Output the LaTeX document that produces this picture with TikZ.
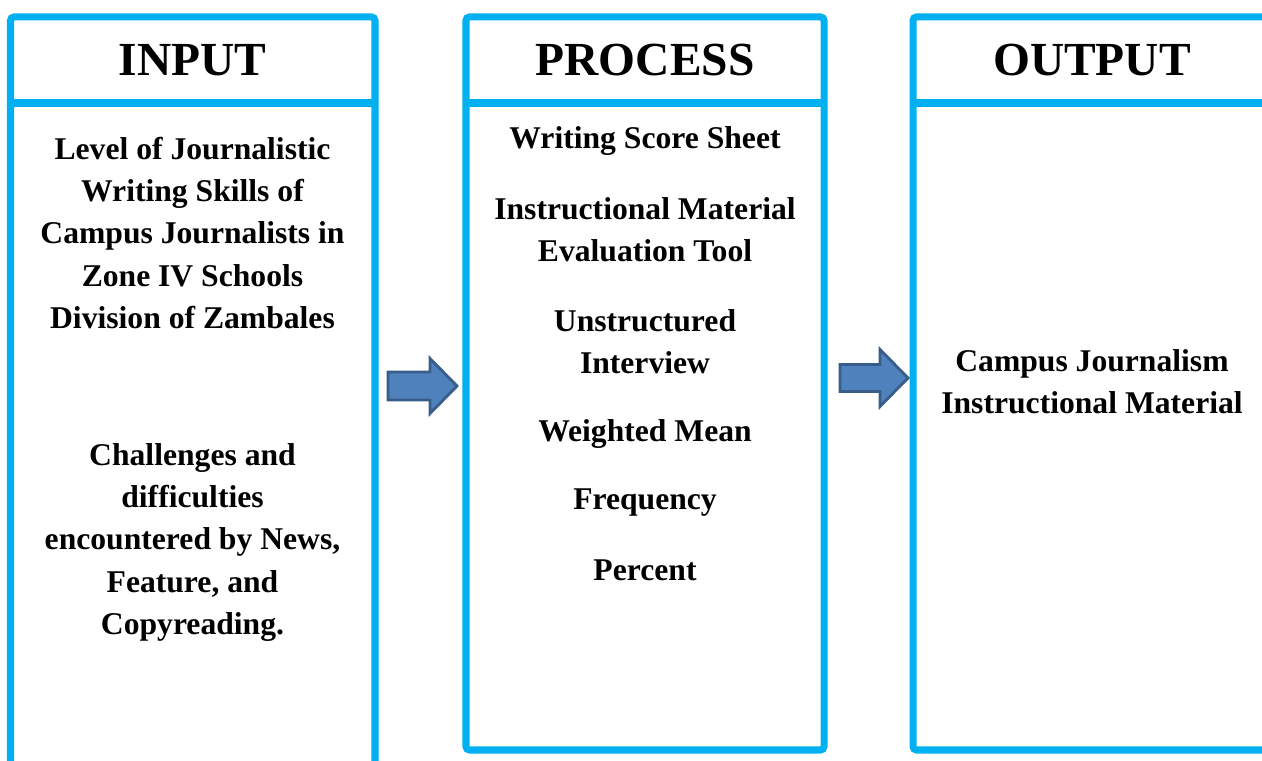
\documentclass[tikz,border=0pt]{standalone}
\usepackage{fontspec}
\setmainfont{Liberation Serif}
\definecolor{framecyan}{HTML}{00B0F0}
\definecolor{arrowfill}{HTML}{4F81BD}
\definecolor{arrowline}{HTML}{385D8A}
\tikzset{
  frame/.style={draw=framecyan, line width=4pt, rounded corners=2pt},
  divider/.style={draw=framecyan, line width=4pt},
  heading/.style={font=\fontsize{27}{32}\selectfont\bfseries},
  item/.style={align=center, font=\fontsize{18}{24}\selectfont\bfseries},
  blockarrow/.style={fill=arrowfill, draw=arrowline, line width=1.6pt, line join=miter},
}
\begin{document}
\begin{tikzpicture}
    \clip (0,0) rectangle (25.24,15.22);
    % frames
    \draw[frame] (0.21,-1) rectangle (7.5,14.88);
    \draw[divider] (0.21,13.16) -- (7.5,13.16);
    \draw[frame] (9.32,0.22) rectangle (16.48,14.88);
    \draw[divider] (9.32,13.16) -- (16.48,13.16);
    \draw[frame] (18.26,0.22) rectangle (27,14.88);
    \draw[divider] (18.26,13.16) -- (27,13.16);
    % headings
    \node[heading] (input) at (3.85,14.02) {INPUT};
    \node[heading] (process) at (12.9,14.02) {PROCESS};
    \node[heading] (output) at (21.84,14.02) {OUTPUT};
    % input column
    \node[item] (level) at (3.85,10.56) {Level of Journalistic\\Writing Skills of\\Campus Journalists in\\Zone IV Schools\\Division of Zambales};
    \node[item] (challenges) at (3.85,4.37) {Challenges and\\difficulties\\encountered by News,\\Feature, and\\Copyreading.};
    % process column
    \node[item] (sheet) at (12.9,12.39) {Writing Score Sheet};
    \node[item] (evaltool) at (12.9,10.62) {Instructional Material\\Evaluation Tool};
    \node[item] (interview) at (12.9,8.38) {Unstructured\\Interview};
    \node[item] (wmean) at (12.9,6.53) {Weighted Mean};
    \node[item] (freq) at (12.9,5.16) {Frequency};
    \node[item] (percent) at (12.9,3.82) {Percent};
    % output column
    \node[item] (material) at (21.84,7.58) {Campus Journalism\\Instructional Material};
    % arrows between columns
    \draw[blockarrow, shift={(7.76,7.5)}] (0,-0.28) -- (0.84,-0.28) -- (0.84,-0.55) -- (1.38,0) -- (0.84,0.55) -- (0.84,0.28) -- (0,0.28) -- cycle;
    \draw[blockarrow, shift={(16.8,7.66)}] (0,-0.27) -- (0.8,-0.27) -- (0.8,-0.57) -- (1.36,0) -- (0.8,0.57) -- (0.8,0.27) -- (0,0.27) -- cycle;
\end{tikzpicture}
\end{document}
